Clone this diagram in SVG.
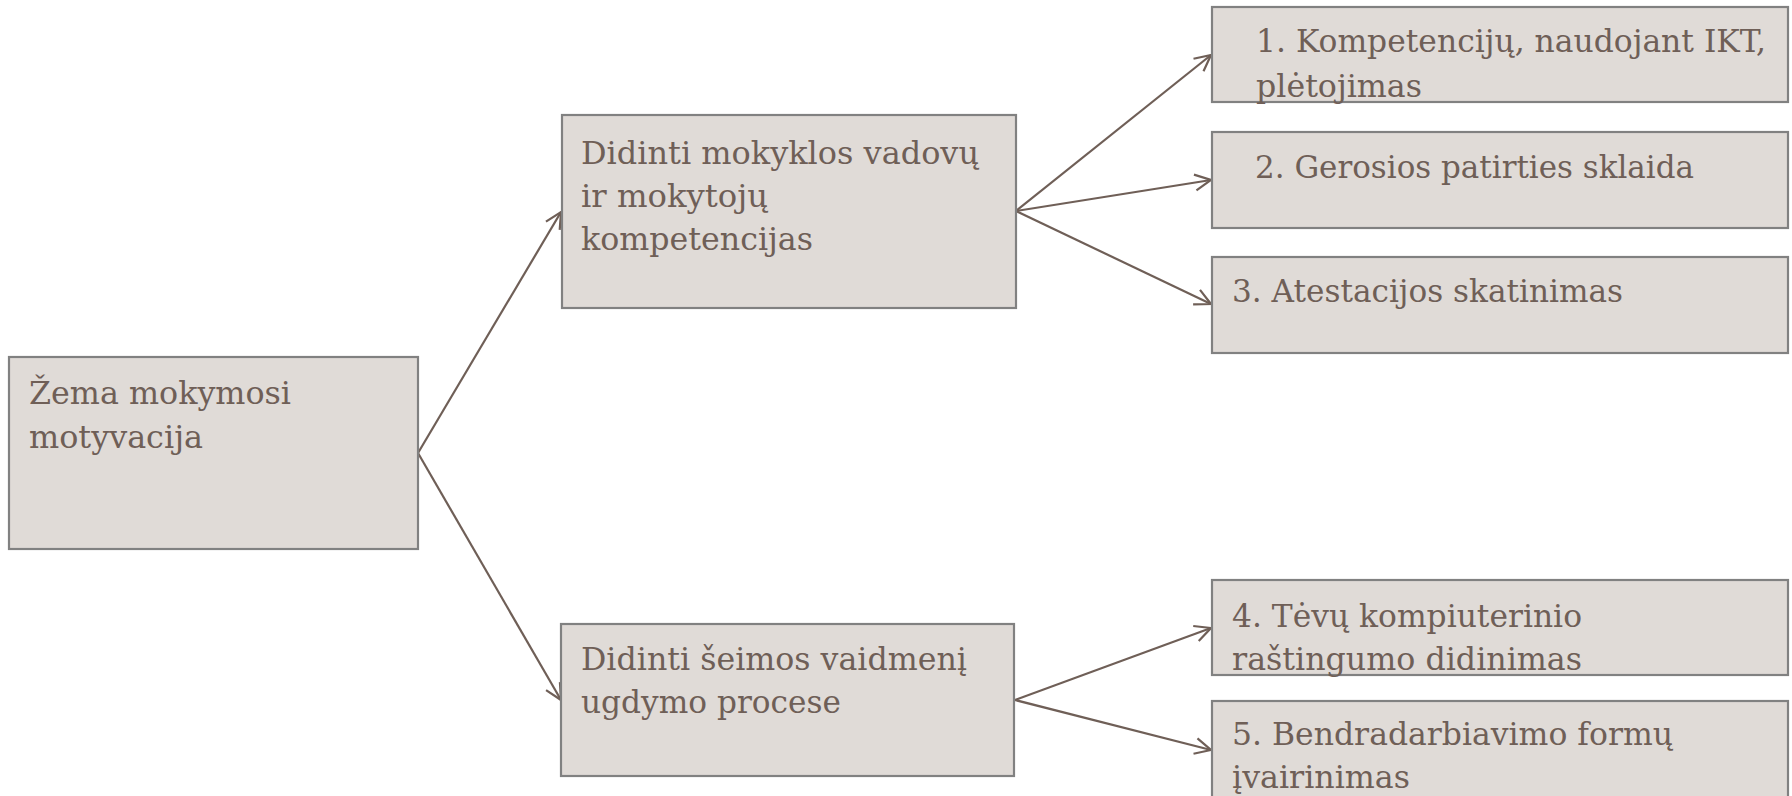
<svg xmlns="http://www.w3.org/2000/svg" width="1792" height="796" viewBox="0 0 1792 796">
<style>
  .box { fill: #e0dbd7; stroke: #818181; stroke-width: 2.2; }
  .lbl { font-family: "DejaVu Serif", "Liberation Serif", serif; font-size: 31px; fill: #6f5f57; }
  .con { fill: none; stroke: #6f5f57; stroke-width: 2.2; }
</style>
<defs>
  <marker id="arr" markerUnits="userSpaceOnUse" viewBox="0 0 20 20" refX="19" refY="10" markerWidth="20" markerHeight="20" orient="auto">
    <path d="M3,2 L19,10 L3,18" fill="none" stroke="#6f5f57" stroke-width="2.2"/>
  </marker>
</defs>
<rect width="1792" height="796" fill="#ffffff"/>

<g id="connectors">
  <line class="con" x1="418" y1="453" x2="561" y2="212" marker-end="url(#arr)"/>
  <line class="con" x1="418" y1="453" x2="561" y2="700" marker-end="url(#arr)"/>
  <line class="con" x1="1016" y1="211" x2="1211" y2="55" marker-end="url(#arr)"/>
  <line class="con" x1="1016" y1="211" x2="1211" y2="180" marker-end="url(#arr)"/>
  <line class="con" x1="1016" y1="211" x2="1211" y2="304" marker-end="url(#arr)"/>
  <line class="con" x1="1015" y1="700" x2="1211" y2="628" marker-end="url(#arr)"/>
  <line class="con" x1="1015" y1="700" x2="1211" y2="750" marker-end="url(#arr)"/>
</g>

<g id="node-zema">
  <rect class="box" x="9" y="357" width="409" height="192"/>
  <text class="lbl" x="29" y="404" textLength="262" lengthAdjust="spacingAndGlyphs">Žema mokymosi</text>
  <text class="lbl" x="29" y="448" textLength="174" lengthAdjust="spacingAndGlyphs">motyvacija</text>
</g>

<g id="node-vadovu">
  <rect class="box" x="562" y="115" width="454" height="193"/>
  <text class="lbl" x="581" y="164" textLength="398" lengthAdjust="spacingAndGlyphs">Didinti mokyklos vadovų</text>
  <text class="lbl" x="581" y="207" textLength="187" lengthAdjust="spacingAndGlyphs">ir mokytojų</text>
  <text class="lbl" x="581" y="250" textLength="232" lengthAdjust="spacingAndGlyphs">kompetencijas</text>
</g>

<g id="node-seimos">
  <rect class="box" x="561" y="624" width="453" height="152"/>
  <text class="lbl" x="581" y="670" textLength="386" lengthAdjust="spacingAndGlyphs">Didinti šeimos vaidmenį</text>
  <text class="lbl" x="581" y="713" textLength="260" lengthAdjust="spacingAndGlyphs">ugdymo procese</text>
</g>

<g id="node-1">
  <rect class="box" x="1212" y="7" width="576" height="95"/>
  <text class="lbl" x="1256" y="52" textLength="510" lengthAdjust="spacingAndGlyphs">1. Kompetencijų, naudojant IKT,</text>
  <text class="lbl" x="1256" y="97" textLength="166" lengthAdjust="spacingAndGlyphs">plėtojimas</text>
</g>

<g id="node-2">
  <rect class="box" x="1212" y="132" width="576" height="96"/>
  <text class="lbl" x="1255" y="178" textLength="439" lengthAdjust="spacingAndGlyphs">2. Gerosios patirties sklaida</text>
</g>

<g id="node-3">
  <rect class="box" x="1212" y="257" width="576" height="96"/>
  <text class="lbl" x="1232" y="302" textLength="391" lengthAdjust="spacingAndGlyphs">3. Atestacijos skatinimas</text>
</g>

<g id="node-4">
  <rect class="box" x="1212" y="580" width="576" height="95"/>
  <text class="lbl" x="1232" y="627" textLength="350" lengthAdjust="spacingAndGlyphs">4. Tėvų kompiuterinio</text>
  <text class="lbl" x="1232" y="670" textLength="350" lengthAdjust="spacingAndGlyphs">raštingumo didinimas</text>
</g>

<g id="node-5">
  <rect class="box" x="1212" y="701" width="576" height="97"/>
  <text class="lbl" x="1232" y="745" textLength="441" lengthAdjust="spacingAndGlyphs">5. Bendradarbiavimo formų</text>
  <text class="lbl" x="1232" y="788" textLength="178" lengthAdjust="spacingAndGlyphs">įvairinimas</text>
</g>
</svg>
